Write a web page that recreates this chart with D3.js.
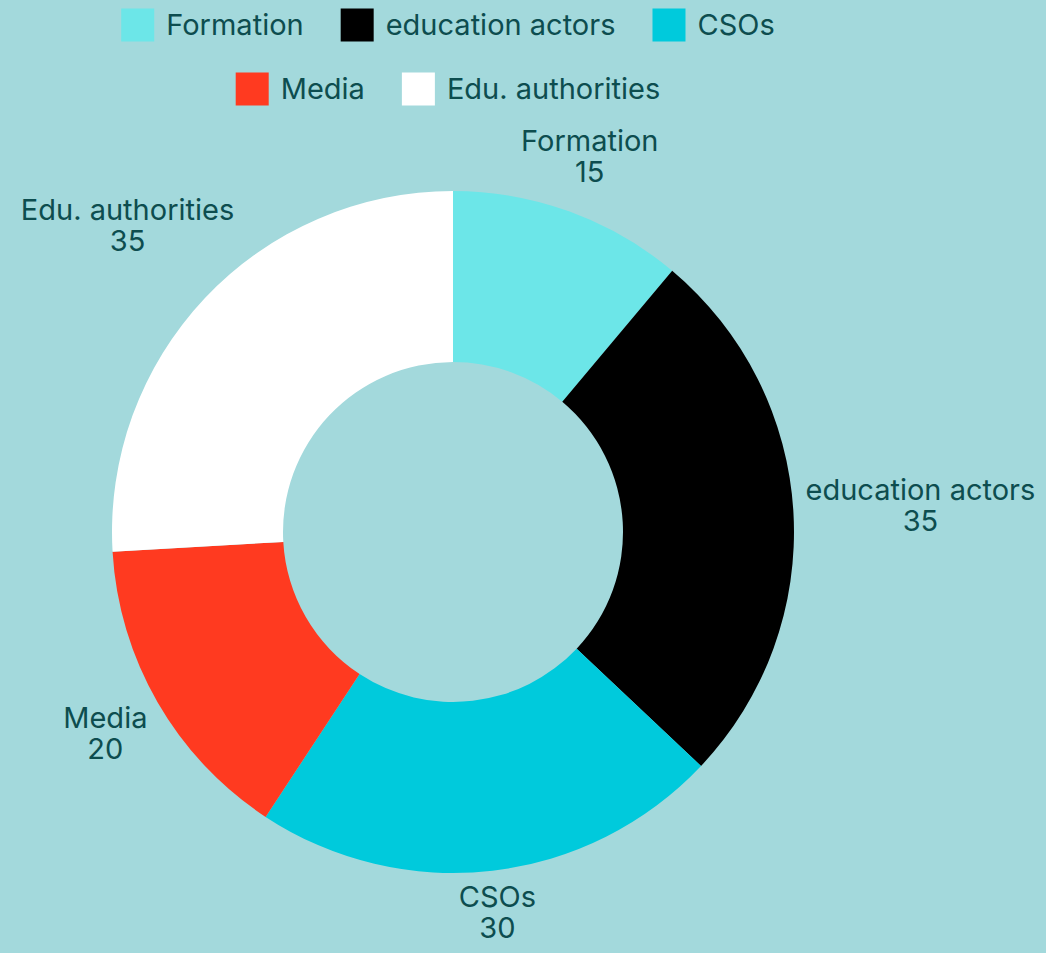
<!DOCTYPE html>
<html>
<body style="margin: 0; background: #a3d9dc">
  <script src="https://d3js.org/d3.v7.min.js"></script>

  <script>
    const categories = ["Formation", "education actors", "CSOs", "Media", "Edu. authorities"];
    const values = [15, 35, 30, 20, 35];
    const colors = ["#6ce6e8", "#000000", "#00cadc", "#ff3a20", "#ffffff"];
    const legendRows = [[0, 1, 2], [3, 4]];

    const WIDTH = 1046;
    const HEIGHT = 953;
    const FONT = "Inter, 'Open Sans', sans-serif";
    const FONT_SIZE = 29;
    const TEXT_COLOR = "#0d4d4f";

    const start = () => {
      const svg = d3.select("body").append("svg")
        .attr("width", WIDTH)
        .attr("height", HEIGHT)
        .style("display", "block")
        .style("font-family", FONT)
        .style("font-size", FONT_SIZE + "px");

      svg.append("rect")
        .attr("width", WIDTH)
        .attr("height", HEIGHT)
        .attr("fill", "#a3d9dc");

      const cx = 453;
      const cy = 532;
      const outerR = 341;
      const innerR = 170;

      const pie = d3.pie().sort(null).value((d) => {return d.value;});
      const arc = d3.arc().innerRadius(innerR).outerRadius(outerR);

      const data = categories.map((c, i) => {
        return {name: c, value: values[i], color: colors[i]};
      });
      const arcs = pie(data);

      const g = svg.append("g").attr("transform", `translate(${cx},${cy})`);

      g.selectAll("path")
        .data(arcs)
        .enter()
        .append("path")
        .attr("d", arc)
        .attr("fill", (d) => {return d.data.color;});

      // labels sit just outside the ring, pushed out by their own box size
      const labelGap = 352;
      const halfH = 26;
      const labels = g.selectAll("g.label")
        .data(arcs)
        .enter()
        .append("g")
        .attr("class", "label");

      labels.append("text")
        .attr("class", "name")
        .attr("text-anchor", "middle")
        .attr("fill", TEXT_COLOR)
        .text((d) => {return d.data.name;});

      labels.append("text")
        .attr("class", "val")
        .attr("text-anchor", "middle")
        .attr("fill", TEXT_COLOR)
        .text((d) => {return d.data.value;});

      labels.each(function(d) {
        const sel = d3.select(this);
        const w = sel.select("text.name").node().getComputedTextLength();
        const a = (d.startAngle + d.endAngle) / 2;
        const s = Math.sin(a);
        const c = Math.cos(a);
        const dist = labelGap + (w / 2) * Math.abs(s) + halfH * Math.abs(c);
        const x = dist * s;
        const y = -dist * c;
        sel.select("text.name").attr("x", x).attr("y", y - 5);
        sel.select("text.val").attr("x", x).attr("y", y + 26);
      });

      // legend, two centred rows
      const swatch = 33;
      const swatchGap = 12;
      const itemGap = 37;
      const legendCenter = 448;
      const rowY = [25, 89];

      const legend = svg.append("g");

      legendRows.forEach((row, r) => {
        const items = row.map((i) => {
          const item = legend.append("g");
          item.append("rect")
            .attr("width", swatch)
            .attr("height", swatch)
            .attr("y", rowY[r] - swatch / 2)
            .attr("fill", colors[i]);
          const t = item.append("text")
            .attr("x", swatch + swatchGap)
            .attr("y", rowY[r])
            .attr("dy", "0.35em")
            .attr("fill", TEXT_COLOR)
            .text(categories[i]);
          return {item: item, w: swatch + swatchGap + t.node().getComputedTextLength()};
        });

        const total = d3.sum(items, (d) => {return d.w;}) + itemGap * (items.length - 1);
        let x = legendCenter - total / 2;
        items.forEach((d) => {
          d.item.attr("transform", `translate(${x},0)`);
          x += d.w + itemGap;
        });
      });
    };

    document.addEventListener("DOMContentLoaded", () => {
      start();
    }, false);
  </script>
</body>
</html>
